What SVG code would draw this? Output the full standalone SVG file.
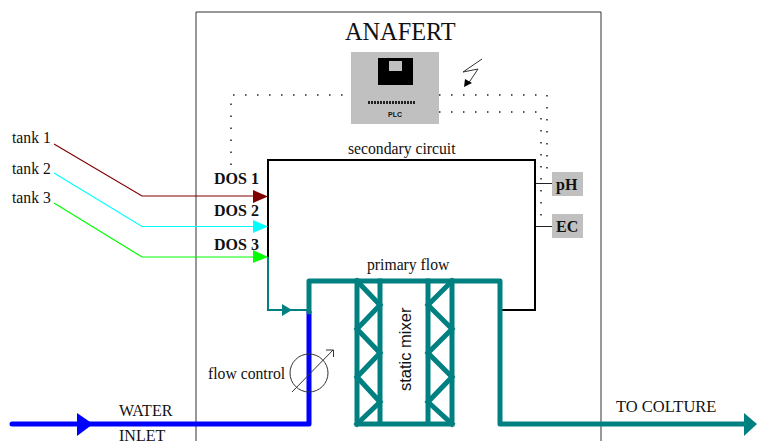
<svg xmlns="http://www.w3.org/2000/svg" width="757" height="441" viewBox="0 0 757 441">
<style>
text{font-family:"Liberation Serif",serif;fill:#111}
.n{font-size:15.7px}
.b{font-size:16px;font-weight:bold}
.dot{fill:none;stroke:#222;stroke-width:1.5;stroke-dasharray:1.5 10.5}
.flow{fill:none;stroke:#008080;stroke-width:5;stroke-linejoin:round;stroke-linecap:round}
.mix{fill:none;stroke:#008080;stroke-width:5;stroke-linejoin:miter;stroke-linecap:square}
.thin{fill:none;stroke-width:1.2}
.k{fill:none;stroke:#000;stroke-width:2}
.s{fill:#c0c0c0}
</style>
<rect width="757" height="441" fill="#fff"/>
<g id="enclosure"><path d="M196 441V12H601V441" fill="none" stroke="#333" stroke-width="1"/><text x="345" y="40" style="font-size:24.300px">ANAFERT</text></g>
<g id="connectors">
<path class="dot" d="M231 165V95H351"/>
<path class="dot" d="M439 95H547V176"/>
<path class="dot" d="M439 112H541V218"/>
<path d="M535 183.500H553M535 226.500H553" fill="none" stroke="#222" stroke-width="1"/>
<path class="k" d="M268 257V160H535V310H502"/>
<path d="M268 257V310H308" fill="none" stroke="#008080" stroke-width="2"/>
<path d="M282 304L292 310L282 316Z" fill="#008080"/>
<path class="thin" stroke="#800000" d="M54 144L142 196H254"/>
<path class="thin" stroke="#00ffff" d="M54 173L142 226.500H254"/>
<path class="thin" stroke="#00ff00" d="M54 203L142 257H254"/>
<path d="M253 190L268 196.500L253 203Z" fill="#800000"/>
<path d="M253 220L268 226.500L253 233Z" fill="#00ffff"/>
<path d="M253 250L268 257L253 263Z" fill="#00ff00"/>
<path d="M12 424H309V312" fill="none" stroke="#0000ff" stroke-width="5" stroke-linecap="round" stroke-linejoin="round"/>
<path d="M77 413L93 424L77 436Z" fill="#0000ff"/>
<path class="flow" d="M309 312V281H500V424H748"/>
<path d="M744 413L757 424L744 436Z" fill="#008080"/>
</g>
<g id="plc">
<rect class="s" x="351" y="52" width="88" height="72"/>
<rect x="378" y="58" width="35" height="27" fill="#000"/>
<rect class="s" x="389" y="61" width="13" height="10"/>
<path d="M368 102.500H415" stroke="#222" stroke-width="3" stroke-dasharray="2 1" fill="none"/>
<text x="395" y="117" text-anchor="middle" style="font-size:7px;font-family:'Liberation Sans',sans-serif;font-weight:bold">PLC</text>
</g>
<g id="lightning"><path d="M482 59L463 72L478 69L468 84" fill="none" stroke="#333" stroke-width="1"/><path d="M464 87L465 79L472 83Z" fill="#000"/></g>
<g id="secondary-circuit"><text class="n" x="348" y="154">secondary circuit</text></g>
<g id="primary-flow"><text class="n" x="367" y="270">primary flow</text></g>
<g id="dos1"><text class="b" x="214" y="184">DOS 1</text></g>
<g id="dos2"><text class="b" x="214" y="216">DOS 2</text></g>
<g id="dos3"><text class="b" x="214" y="250">DOS 3</text></g>
<g id="ph"><rect class="s" x="552" y="172" width="31" height="24"/><text class="b" x="556" y="190">pH</text></g>
<g id="ec"><rect class="s" x="552" y="214" width="31" height="24"/><text class="b" x="556" y="232">EC</text></g>
<g id="tanks"><text class="n" x="12" y="143">tank 1</text><text class="n" x="12" y="174">tank 2</text><text class="n" x="12" y="203">tank 3</text></g>
<g id="static-mixer">
<path class="mix" d="M357 281V424H452V281M380 281V424M428 281V424"/>
<path class="mix" d="M357 281L380 305L357 329L380 353L357 377L380 402L357 424"/>
<path class="mix" d="M452 281L428 305L452 329L428 353L452 377L428 402L452 424"/>
<text transform="translate(411 391) rotate(-90)" style="font-size:16.500px;font-family:'Liberation Sans',sans-serif">static mixer</text>
</g>
<g id="flow-control">
<circle cx="309" cy="373" r="19" fill="none" stroke="#333" stroke-width="1"/>
<path d="M292 392L333 350" fill="none" stroke="#333" stroke-width="1"/>
<path d="M326 350H333.500V357" fill="none" stroke="#333" stroke-width="1"/>
<text class="n" x="208" y="379">flow control</text>
</g>
<g id="inlet"><text class="n" x="119" y="416" style="font-size:16px">WATER</text><text class="n" x="119" y="441" style="font-size:16px">INLET</text></g>
<g id="outlet"><text class="n" x="616" y="412" style="font-size:16.500px">TO COLTURE</text></g>
</svg>
